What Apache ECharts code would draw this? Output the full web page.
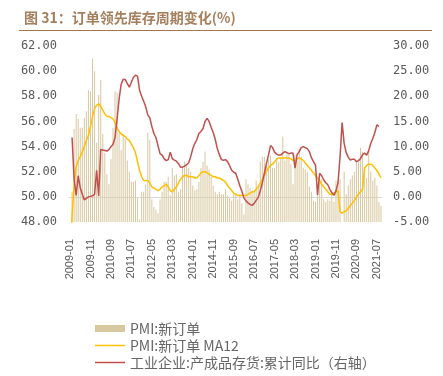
<!DOCTYPE html>
<html>
<head>
<meta charset="utf-8">
<script src="https://cdn.jsdelivr.net/npm/echarts@6/dist/echarts.min.js"></script>
<style>
html,body{margin:0;padding:0;background:#fff;}
#main{width:443px;height:376px;}
</style>
</head>
<body>
<div id="main"></div>
<script>
var categories = [
'2009-01','2009-02','2009-03','2009-04','2009-05','2009-06','2009-07','2009-08','2009-09','2009-10','2009-11','2009-12',
'2010-01','2010-02','2010-03','2010-04','2010-05','2010-06','2010-07','2010-08','2010-09','2010-10','2010-11','2010-12',
'2011-01','2011-02','2011-03','2011-04','2011-05','2011-06','2011-07','2011-08','2011-09','2011-10','2011-11','2011-12',
'2012-01','2012-02','2012-03','2012-04','2012-05','2012-06','2012-07','2012-08','2012-09','2012-10','2012-11','2012-12',
'2013-01','2013-02','2013-03','2013-04','2013-05','2013-06','2013-07','2013-08','2013-09','2013-10','2013-11','2013-12',
'2014-01','2014-02','2014-03','2014-04','2014-05','2014-06','2014-07','2014-08','2014-09','2014-10','2014-11','2014-12',
'2015-01','2015-02','2015-03','2015-04','2015-05','2015-06','2015-07','2015-08','2015-09','2015-10','2015-11','2015-12',
'2016-01','2016-02','2016-03','2016-04','2016-05','2016-06','2016-07','2016-08','2016-09','2016-10','2016-11','2016-12',
'2017-01','2017-02','2017-03','2017-04','2017-05','2017-06','2017-07','2017-08','2017-09','2017-10','2017-11','2017-12',
'2018-01','2018-02','2018-03','2018-04','2018-05','2018-06','2018-07','2018-08','2018-09','2018-10','2018-11','2018-12',
'2019-01','2019-02','2019-03','2019-04','2019-05','2019-06','2019-07','2019-08','2019-09','2019-10','2019-11','2019-12',
'2020-01','2020-02','2020-03','2020-04','2020-05','2020-06','2020-07','2020-08','2020-09','2020-10','2020-11','2020-12',
'2021-01','2021-02','2021-03','2021-04','2021-05','2021-06','2021-07','2021-08','2021-09'
];

// PMI: new orders (left axis)
var pmiNewOrders = [
45.0,50.4,55.4,56.6,56.2,55.5,55.5,56.3,56.8,58.5,58.4,61.0,
60.0,54.3,58.1,59.3,55.0,53.5,51.8,51.0,53.0,55.5,58.4,58.3,
55.1,53.7,55.0,54.6,52.9,52.0,51.2,51.2,51.3,49.9,48.2,50.4,
50.4,51.0,55.1,54.5,49.8,49.2,49.0,48.7,49.8,50.4,51.2,51.2,
51.6,50.1,52.3,51.7,51.8,50.4,50.6,52.4,52.8,52.5,52.3,52.0,
50.9,50.5,50.6,51.2,52.3,52.8,53.6,52.5,52.2,51.6,50.9,50.4,
50.2,50.4,50.2,50.2,50.6,50.1,49.9,49.7,50.2,50.3,49.8,50.2,
49.5,48.6,51.4,51.0,50.7,50.5,50.4,51.3,50.9,52.8,53.2,53.2,
52.8,53.0,53.3,52.3,52.3,53.1,52.8,53.1,54.8,52.9,53.6,53.4,
52.6,51.0,53.3,52.9,53.8,53.2,52.3,52.2,52.0,50.8,50.4,49.7,
49.6,50.6,51.6,51.4,49.8,49.6,49.8,49.7,50.5,49.6,51.3,51.2,
51.4,29.3,52.0,50.2,50.9,51.4,51.7,52.0,52.8,52.8,53.9,53.6,
52.3,51.5,53.6,52.0,51.3,51.5,50.9,49.6,49.3
];

// PMI: new orders MA12 (left axis)
var pmiNewOrdersMA12 = [
45.0,48.5,51.0,52.4,52.9,53.2,53.6,54.0,54.5,54.9,55.6,56.4,
57.0,57.3,57.4,57.2,56.9,56.6,56.4,56.4,56.3,56.2,55.9,55.5,
55.2,55.0,54.9,54.8,54.6,54.5,54.2,53.9,53.5,52.8,52.1,51.6,
51.3,51.3,51.3,51.1,50.8,50.7,50.6,50.5,50.6,50.8,50.9,51.0,
50.8,50.5,50.4,50.6,50.8,51.1,51.4,51.6,51.7,51.7,51.6,51.6,
51.6,51.5,51.5,51.7,51.9,52.0,52.0,51.9,51.8,51.7,51.6,51.6,
51.5,51.5,51.4,51.3,51.2,50.9,50.7,50.5,50.3,50.2,50.1,50.1,
50.1,50.1,50.1,50.2,50.3,50.4,50.4,50.6,50.8,51.1,51.4,51.7,
52.0,52.3,52.5,52.6,52.8,53.0,53.1,53.1,53.1,53.1,53.1,53.1,
53.0,52.9,52.9,53.0,53.1,53.0,52.9,52.7,52.5,52.3,52.1,51.9,
51.7,51.5,51.3,51.0,50.8,50.6,50.4,50.2,50.2,50.3,50.4,50.5,
48.8,48.7,48.8,48.9,49.1,49.3,49.5,49.7,50.0,50.2,50.4,50.6,
52.3,52.5,52.6,52.6,52.5,52.3,52.1,51.8,51.5
];

// Industrial enterprises: finished goods inventory, cumulative YoY (right axis)
var inventoryYoY = [
null,11.8,3.5,0.3,4.2,1.8,0.5,-0.6,-0.3,0.0,0.1,0.2,
0.5,5.3,0.2,9.4,9.3,9.2,9.1,9.4,10.0,10.4,11.8,15.5,
19.5,22.4,23.4,23.3,22.5,21.8,22.8,23.8,24.2,24.0,21.2,20.0,
19.0,17.9,16.3,15.7,14.0,12.6,11.8,10.2,8.6,8.3,7.6,7.2,
7.4,8.9,7.6,7.3,7.1,6.6,5.9,5.9,6.1,6.4,6.8,8.0,
9.6,10.6,11.4,12.6,13.0,13.6,15.0,15.6,15.0,13.8,12.8,11.4,
9.6,8.4,7.4,7.3,7.4,7.0,6.2,5.3,4.9,4.7,3.5,2.2,
1.1,-0.2,-0.8,-1.2,-1.5,-1.7,-1.3,-0.7,-0.1,1.2,2.8,4.7,
6.6,8.3,10.2,9.8,8.9,8.5,8.3,8.3,8.7,9.0,8.8,8.6,
8.7,8.7,5.7,8.4,9.0,9.8,10.0,9.8,9.6,9.0,7.8,7.0,
6.3,0.4,4.7,4.2,3.4,2.8,2.4,1.5,0.8,0.3,1.2,2.8,
8.0,14.8,10.6,8.8,7.9,7.3,7.5,7.5,7.0,7.2,7.6,8.4,
8.7,8.3,9.2,10.6,11.6,12.8,14.3,14.0,null
];

var seriesNames = ['PMI:新订单', 'PMI:新订单 MA12', '工业企业:产成品存货:累计同比（右轴）'];
var titleText = '图 31：订单领先库存周期变化(%)';

var chart = echarts.init(document.getElementById('main'), null, {renderer: 'canvas'});
var axisFont = 'DejaVu Sans Mono';
var cjkFont = 'Noto Sans CJK SC';
var lineIcon = 'path://M0,0 H120 V6 H0 Z';
chart.setOption({
  animation: false,
  backgroundColor: '#ffffff',
  title: {
    text: titleText,
    left: 19, top: 6,
    textStyle: {fontFamily: cjkFont, fontSize: 14, fontWeight: 'bold', color: '#a57f5c'}
  },
  graphic: [{
    type: 'line', shape: {x1: 19, y1: 30.5, x2: 432, y2: 30.5},
    style: {stroke: '#a3764e', lineWidth: 1}
  }],
  legend: {
    orient: 'vertical', left: 95, top: 321, height: 60, padding: 0,
    itemWidth: 30, itemHeight: 7, itemGap: 2, symbolKeepAspect: true,
    textStyle: {fontFamily: cjkFont, fontSize: 14, color: '#666666', lineHeight: 15},
    data: [
      {name: seriesNames[0], icon: 'rect'},
      {name: seriesNames[1], icon: lineIcon},
      {name: seriesNames[2], icon: lineIcon}
    ]
  },
  grid: {left: 69, right: 61, top: 46, bottom: 154, containLabel: false},
  xAxis: {
    type: 'category', data: categories, boundaryGap: true,
    axisLine: {lineStyle: {color: '#d9d9d9', width: 1}},
    axisTick: {show: false},
    axisLabel: {interval: 9, rotate: 90, margin: 17, fontFamily: 'Liberation Sans', fontSize: 11, color: '#595959'}
  },
  yAxis: [{
    type: 'value', min: 48, max: 62, interval: 2,
    axisLine: {show: false}, axisTick: {show: false}, splitLine: {show: false},
    axisLabel: {margin: 12, fontFamily: axisFont, fontSize: 12, color: '#595959',
      formatter: function (v) { return v.toFixed(2); }}
  }, {
    type: 'value', min: -5, max: 30, interval: 5, position: 'right',
    axisLine: {show: false}, axisTick: {show: false}, splitLine: {show: false},
    axisLabel: {margin: 11, fontFamily: axisFont, fontSize: 12, color: '#595959',
      formatter: function (v) { return v.toFixed(2); }}
  }],
  series: [{
    name: seriesNames[0], type: 'bar', data: pmiNewOrders, yAxisIndex: 0,
    barCategoryGap: '50%', itemStyle: {color: '#d8c8a0'}, clip: true
  }, {
    name: seriesNames[1], type: 'line', data: pmiNewOrdersMA12, yAxisIndex: 0,
    symbol: 'none', lineStyle: {color: '#ffc000', width: 1.5}, itemStyle: {color: '#ffc000'}, clip: true
  }, {
    name: seriesNames[2], type: 'line', data: inventoryYoY, yAxisIndex: 1,
    symbol: 'none', lineStyle: {color: '#c0504d', width: 1.5}, itemStyle: {color: '#c0504d'}, clip: true
  }]
});
</script>
</body>
</html>
